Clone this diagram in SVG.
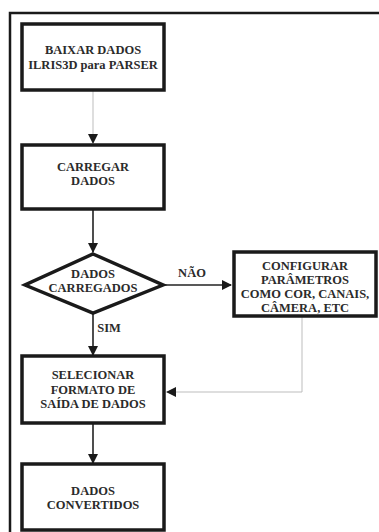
<svg xmlns="http://www.w3.org/2000/svg" width="379" height="532" viewBox="0 0 379 532">
<style>
.box{fill:#fff;stroke:#1a1a1a;stroke-width:3.5}
.t{font-family:"Liberation Serif","Times New Roman",serif;font-weight:bold;font-size:12.5px;fill:#2b2b2b;text-anchor:middle}
.dark{stroke:#222;stroke-width:1.6;fill:none}
.light{stroke:#bdbdbd;stroke-width:1;fill:none}
</style>
<defs>
<marker id="ah" markerWidth="10" markerHeight="10" refX="9" refY="5" orient="auto" markerUnits="userSpaceOnUse">
<path d="M0,0 L10,5 L0,10 Z" fill="#1a1a1a"/>
</marker>
</defs>
<rect width="379" height="532" fill="#fff"/>
<g id="frame">
<path d="M10,533 L10,13 L379,13" fill="none" stroke="#1a1a1a" stroke-width="2.5"/>
</g>
<g id="connectors">
<line class="light" x1="93" y1="91" x2="93" y2="143" marker-end="url(#ah)"/>
<line class="dark" x1="93" y1="210" x2="93" y2="252" marker-end="url(#ah)"/>
<line class="dark" x1="164" y1="285" x2="231" y2="285" marker-end="url(#ah)"/>
<line class="dark" x1="93" y1="314" x2="93" y2="355" marker-end="url(#ah)"/>
<polyline class="light" points="302,317 302,392 167,392" marker-end="url(#ah)"/>
<line class="dark" x1="93" y1="424" x2="93" y2="463" marker-end="url(#ah)"/>
<text class="t" x="192" y="277">NÃO</text>
<text class="t" x="109" y="332">SIM</text>
</g>
<g id="n1">
<rect class="box" x="22" y="24" width="142" height="66"/>
<text class="t" x="93" y="54">BAIXAR DADOS</text>
<text class="t" x="93" y="69">ILRIS3D para PARSER</text>
</g>
<g id="n2">
<rect class="box" x="22" y="145" width="142" height="64"/>
<text class="t" x="93" y="171">CARREGAR</text>
<text class="t" x="93" y="185">DADOS</text>
</g>
<g id="n3">
<polygon class="box" points="93,254 163,285 93,313 25,285"/>
<text class="t" x="93" y="278">DADOS</text>
<text class="t" x="93" y="292">CARREGADOS</text>
</g>
<g id="n4">
<rect class="box" x="234" y="252" width="142" height="64"/>
<text class="t" x="305" y="270">CONFIGURAR</text>
<text class="t" x="305" y="284">PARÂMETROS</text>
<text class="t" x="305" y="298">COMO COR, CANAIS,</text>
<text class="t" x="305" y="312">CÂMERA, ETC</text>
</g>
<g id="n5">
<rect class="box" x="22" y="356" width="142" height="67"/>
<text class="t" x="93" y="379">SELECIONAR</text>
<text class="t" x="93" y="394">FORMATO DE</text>
<text class="t" x="93" y="408">SAÍDA DE DADOS</text>
</g>
<g id="n6">
<rect class="box" x="22" y="464" width="142" height="66"/>
<text class="t" x="93" y="495">DADOS</text>
<text class="t" x="93" y="509">CONVERTIDOS</text>
</g>
</svg>
